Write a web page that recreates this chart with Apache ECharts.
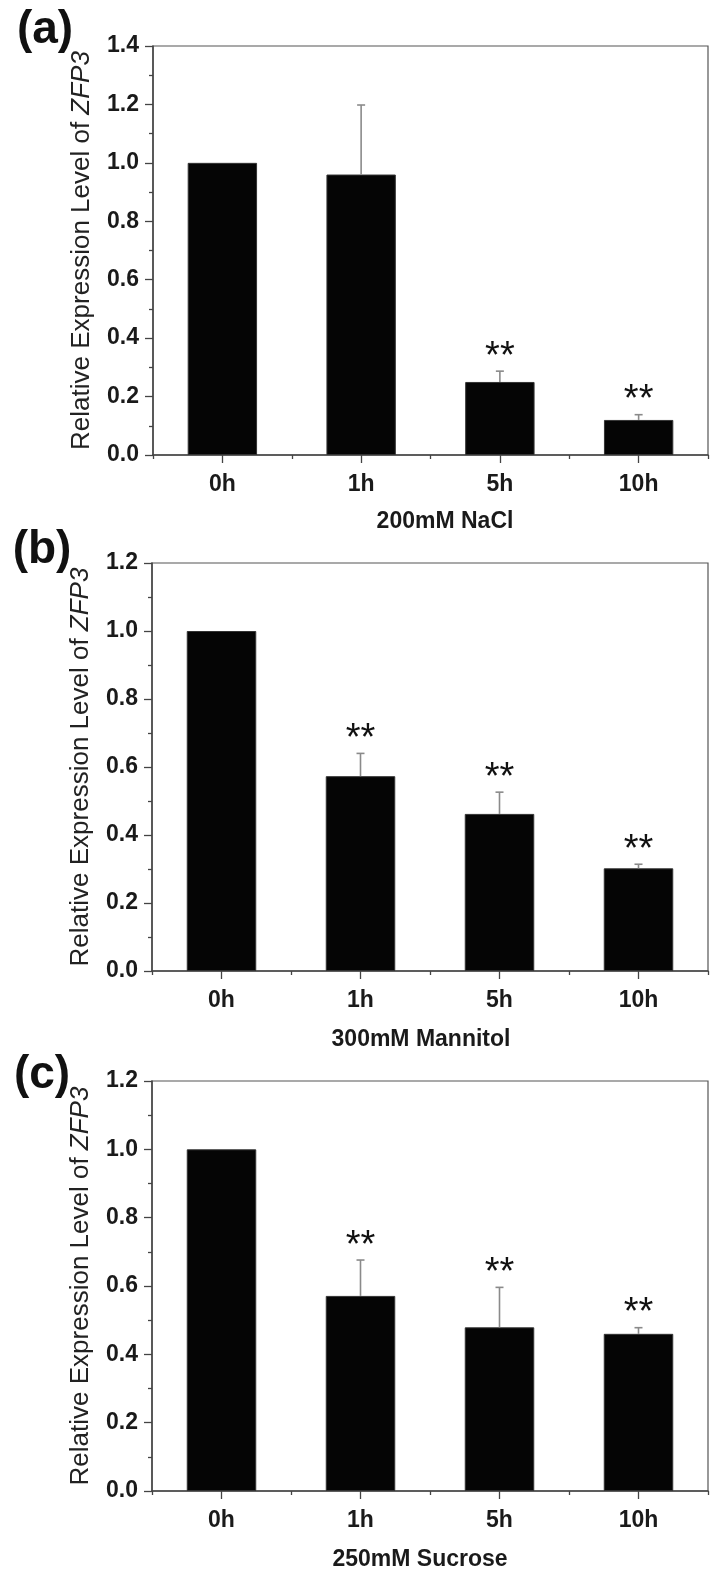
<!DOCTYPE html>
<html>
<head>
<meta charset="utf-8">
<script src="https://cdn.jsdelivr.net/npm/echarts@6/dist/echarts.min.js"></script>
<style>
  html, body { margin: 0; padding: 0; background: #ffffff; }
  #chart { width: 716px; height: 1589px; }
</style>
</head>
<body>
<div id="chart"></div>
<script>
// ---- Data ----
const categories = ['0h', '1h', '5h', '10h'];

const naclValues = [1.0, 0.96, 0.25, 0.12];
const naclErrors = [0, 0.238, 0.037, 0.018];
const naclStars = [0, 0, 1, 1];

const mannitolValues = [1.0, 0.573, 0.462, 0.302];
const mannitolErrors = [0, 0.067, 0.064, 0.012];
const mannitolStars = [0, 1, 1, 1];

const sucroseValues = [1.0, 0.571, 0.479, 0.460];
const sucroseErrors = [0, 0.105, 0.117, 0.018];
const sucroseStars = [0, 1, 1, 1];

const panelLabels = ['(a)', '(b)', '(c)'];
const treatmentTitles = ['200mM NaCl', '300mM Mannitol', '250mM Sucrose'];
const yMaxima = [1.4, 1.2, 1.2];
const yInterval = 0.2;
const yTitle = 'Relative Expression Level of {i|ZFP3}';

// ---- Layout (positions only) ----
const grids = [
  { left: 153, top: 46, width: 555, height: 409 },
  { left: 152, top: 563, width: 556, height: 408 },
  { left: 152, top: 1081, width: 556, height: 410 }
];
const labelPos = [[45, 30], [42, 550], [42, 1075]];
const titlePos = [[445, 522], [421, 1040], [420, 1560]];

const FONT = '"Liberation Sans", Arial, sans-serif';
const panels = [
  { values: naclValues, errors: naclErrors, stars: naclStars },
  { values: mannitolValues, errors: mannitolErrors, stars: mannitolStars },
  { values: sucroseValues, errors: sucroseErrors, stars: sucroseStars }
];

const option = {
  backgroundColor: '#ffffff',
  animation: false,
  grid: grids.map(g => Object.assign({ show: true, borderColor: '#555', borderWidth: 1.2, backgroundColor: 'transparent', containLabel: false }, g)),
  xAxis: [],
  yAxis: [],
  series: [],
  graphic: []
};

panels.forEach((p, i) => {
  // main x axis with labels
  option.xAxis.push({
    type: 'category', gridIndex: i, data: categories, boundaryGap: true,
    axisLine: { show: true, lineStyle: { color: '#444', width: 1.5 } },
    axisTick: { show: true, alignWithLabel: true, inside: false, length: 8, lineStyle: { color: '#444', width: 1.3 } },
    axisLabel: { fontFamily: FONT, fontWeight: 'bold', fontSize: 23, color: '#1a1a1a', margin: 18 },
    splitLine: { show: false }
  });
  // secondary x axis: small boundary ticks
  option.xAxis.push({
    type: 'category', gridIndex: i, data: categories, boundaryGap: true, position: 'bottom',
    axisLine: { show: false },
    axisTick: { show: true, alignWithLabel: false, inside: false, length: 4, lineStyle: { color: '#444', width: 1.3 } },
    axisLabel: { show: false },
    splitLine: { show: false }
  });
  option.yAxis.push({
    type: 'value', gridIndex: i, min: 0, max: yMaxima[i], interval: yInterval,
    axisLine: { show: true, lineStyle: { color: '#444', width: 1.5 } },
    axisTick: { show: true, inside: false, length: 8, lineStyle: { color: '#444', width: 1.3 } },
    minorTick: { show: true, splitNumber: 2, length: 4, lineStyle: { color: '#444', width: 1.3 } },
    axisLabel: { fontFamily: FONT, fontWeight: 'bold', fontSize: 23, color: '#1a1a1a', margin: 14,
      formatter: v => v.toFixed(1) },
    splitLine: { show: false },
    name: yTitle,
    nameLocation: 'middle',
    nameRotate: 90,
    nameGap: 58,
    nameTextStyle: {
      fontFamily: FONT, fontSize: 26, color: '#222',
      rich: { i: { fontFamily: FONT, fontSize: 26, fontStyle: 'italic', color: '#222' } }
    }
  });
  option.series.push({
    type: 'bar', xAxisIndex: i * 2, yAxisIndex: i,
    data: p.values, barWidth: '50%',
    itemStyle: { color: '#050505', borderColor: '#333', borderWidth: 1 },
    z: 2
  });
  option.series.push({
    type: 'custom', xAxisIndex: i * 2, yAxisIndex: i, z: 3,
    data: p.values.map((v, k) => [k, v, p.errors[k], p.stars[k]]),
    renderItem: (params, api) => {
      const x = api.value(0), v = api.value(1), e = api.value(2), s = api.value(3);
      const base = api.coord([x, v]);
      const top = api.coord([x, v + e]);
      const children = [];
      if (e > 0) {
        children.push({ type: 'line', shape: { x1: base[0], y1: base[1], x2: top[0], y2: top[1] },
          style: { stroke: '#8a8a8a', lineWidth: 1.6 } });
        children.push({ type: 'line', shape: { x1: top[0] - 4, y1: top[1], x2: top[0] + 4, y2: top[1] },
          style: { stroke: '#8a8a8a', lineWidth: 1.6 } });
      }
      if (s) {
        children.push({ type: 'text', x: top[0], y: top[1] - 14,
          style: { text: '**', fontFamily: FONT, fontSize: 38, fill: '#111', align: 'center', verticalAlign: 'middle' } });
      }
      return { type: 'group', children };
    }
  });
  option.graphic.push({
    type: 'text', x: labelPos[i][0], y: labelPos[i][1],
    style: { text: panelLabels[i], fontFamily: FONT, fontWeight: 'bold', fontSize: 46, fill: '#111', align: 'center', verticalAlign: 'middle' }
  });
  option.graphic.push({
    type: 'text', x: titlePos[i][0], y: titlePos[i][1],
    style: { text: treatmentTitles[i], fontFamily: FONT, fontWeight: 'bold', fontSize: 23, fill: '#1a1a1a', align: 'center', verticalAlign: 'middle' }
  });
});

const chart = echarts.init(document.getElementById('chart'), null, { renderer: 'canvas' });
chart.setOption(option);
</script>
</body>
</html>
